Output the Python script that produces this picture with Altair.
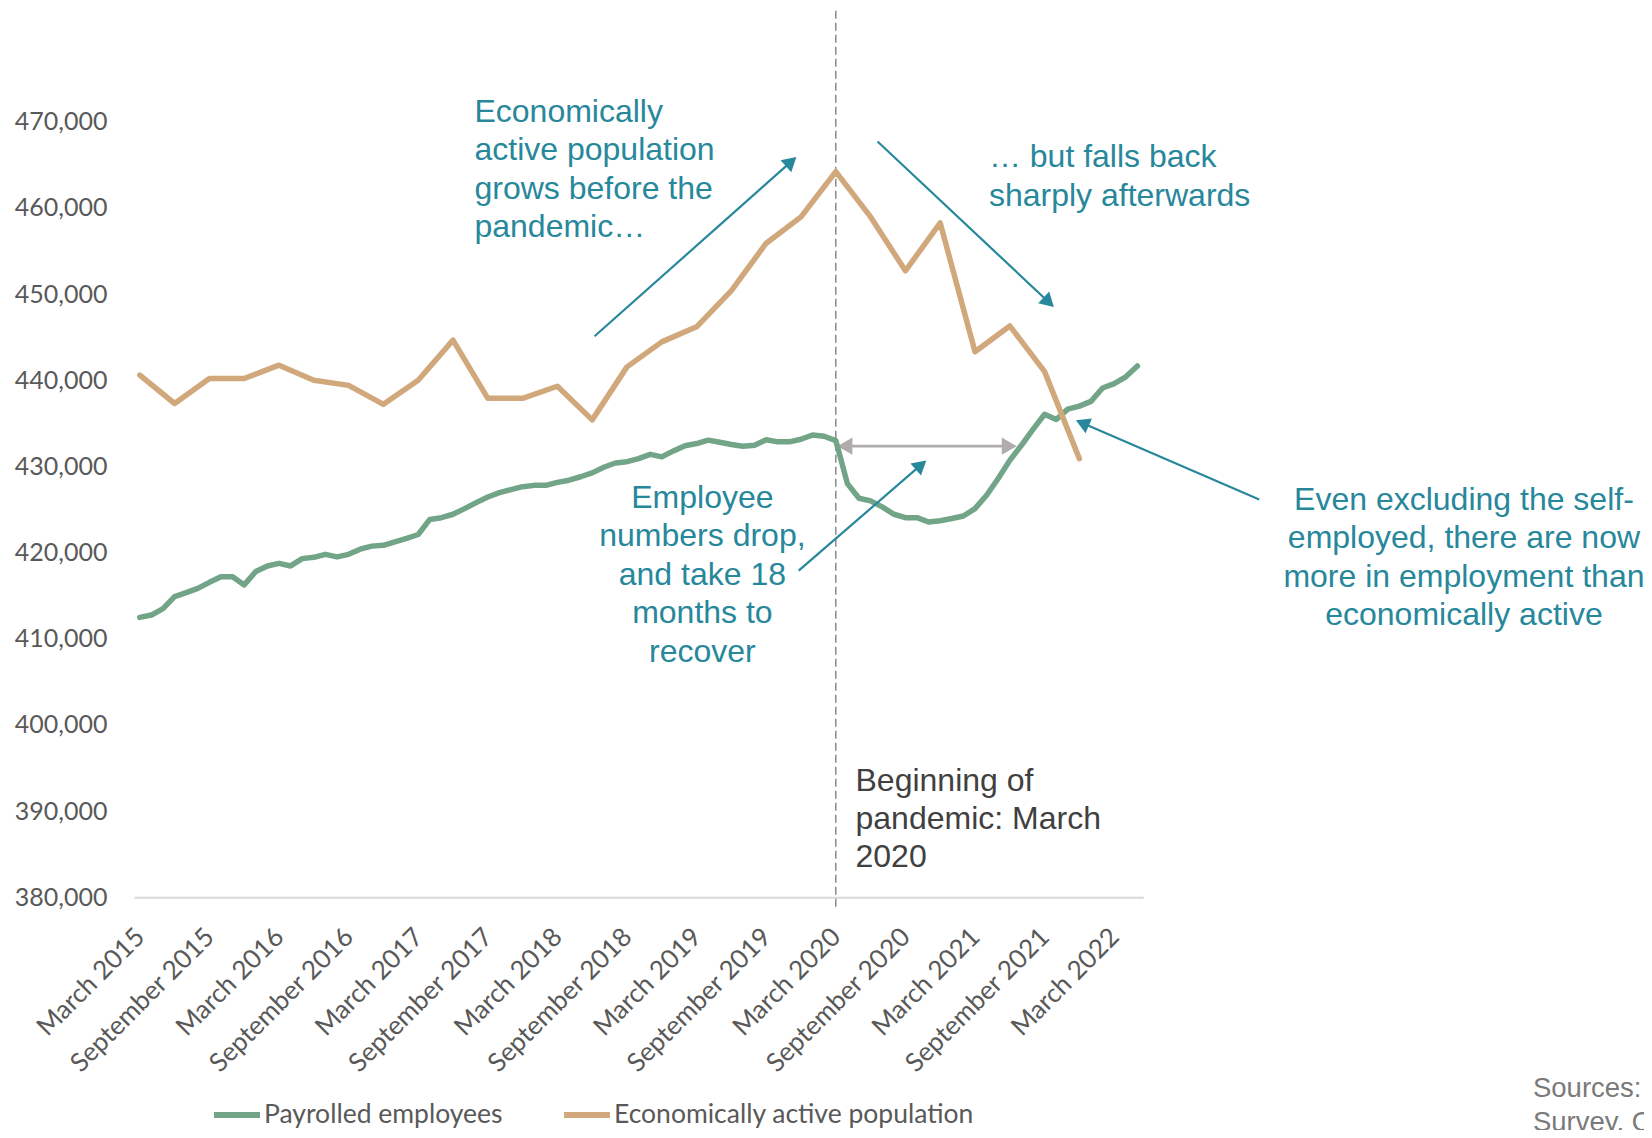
import math
import altair as alt
import pandas as pd

# ---------------- data ----------------
tick_labels = ["March 2015", "September 2015", "March 2016", "September 2016",
               "March 2017", "September 2017", "March 2018", "September 2018",
               "March 2019", "September 2019", "March 2020", "September 2020",
               "March 2021", "September 2021", "March 2022"]
tick_positions = [0, 6, 12, 18, 24, 30, 36, 42, 48, 54, 60, 66, 72, 78, 84]
y_ticks = [380000, 390000, 400000, 410000, 420000, 430000, 440000, 450000, 460000, 470000]

# monthly, March 2015 .. May 2022
payrolled = [412480, 412750, 413500, 414900, 415350, 415850, 416550, 417200, 417200, 416250,
             417800, 418450, 418750, 418450, 419300, 419450, 419800, 419500, 419800, 420400,
             420750, 420850, 421250, 421650, 422100, 423850, 424050, 424450, 425100, 425800,
             426450, 426950, 427300, 427650, 427800, 427800, 428150, 428400, 428800, 429250,
             429900, 430400, 430550, 430900, 431400, 431100, 431800, 432400, 432650, 433050,
             432800, 432550, 432350, 432450, 433100, 432850, 432850, 433150, 433650, 433500,
             433000, 428000, 426300, 426000, 425300, 424450, 424050, 424050, 423550, 423700,
             423950, 424250, 425100, 426650, 428600, 430700, 432450, 434300, 436050, 435450,
             436650, 437000, 437550, 439100, 439600, 440400, 441650]

# quarterly, March 2015 .. December 2021
econ_active = [440600, 437300, 440200, 440200, 441750, 440000, 439400, 437200, 440000, 444650,
               437900, 437900, 439300, 435400, 441550, 444450, 446200, 450400, 455900, 458950,
               464200, 458950, 452700, 458250, 443300, 446300, 441000, 430900]

series_names = ["Payrolled employees", "Economically active population"]
series_colors = ["#72a488", "#d0a87b"]

pandemic_month = [60]

notes_left = [
    {"x": 28.85, "y": 470000, "text": "Economically\nactive population\ngrows before the\npandemic…"},
    {"x": 73.2, "y": 464700, "text": "… but falls back\nsharply afterwards"},
]
notes_center = [
    {"x": 48.5, "y": 425200, "text": "Employee\nnumbers drop,\nand take 18\nmonths to\nrecover"},
    {"x": 114.15, "y": 424950, "text": "Even excluding the self-\nemployed, there are now\nmore in employment than\neconomically active"},
]
note_dark = [{"x": 61.7, "y": 392350, "text": "Beginning of\npandemic: March\n2020"}]
note_sources = [{"x": 120.1, "y": 356800, "text": "Sources:\nSurvey, ONS"}]

# arrows: start (x, y) -> tip (x2, y2) in data units
teal_arrows = [
    (39.2, 445100, 56.6, 465900),
    (63.6, 467700, 78.8, 448500),
    (56.8, 417900, 67.8, 430700),
    (96.5, 426150, 80.7, 435350),
]
gray_arrow = (60.14, 75.6, 432350)

# ---------------- geometry ----------------
W, H = 1009.2, 775.6
X_DOM = [-0.5, 86.5]
Y_DOM = [380000, 470000]
kx = W / (X_DOM[1] - X_DOM[0])
ky = H / (Y_DOM[1] - Y_DOM[0])

TEAL = "#27879b"
GRAY_ARROW = "#b0acac"
TEAL_HEAD = 260
GRAY_HEAD = 300


def head(x1, y1, x2, y2, size):
    dx = (x2 - x1) * kx
    dy = -(y2 - y1) * ky
    L = math.hypot(dx, dy)
    ux, uy = dx / L, dy / L
    h = math.sqrt(3) / 4 * math.sqrt(size)
    cx = x2 - ux * h / kx
    cy = y2 + uy * h / ky
    ang = math.degrees(math.atan2(dx, -dy)) % 360
    return cx, cy, ang


teal_lines, teal_heads = [], []
for (x1, y1, x2, y2) in teal_arrows:
    cx, cy, ang = head(x1, y1, x2, y2, TEAL_HEAD)
    teal_lines.append({"x": x1, "y": y1, "x2": cx, "y2": cy})
    teal_heads.append({"x": cx, "y": cy, "angle": ang})

gx1, gx2, gy = gray_arrow
lc, _, la = head(gx2, gy, gx1, gy, GRAY_HEAD)
rc, _, ra = head(gx1, gy, gx2, gy, GRAY_HEAD)
gray_lines = [{"x": lc, "y": gy, "x2": rc, "y2": gy}]
gray_heads = [{"x": lc, "y": gy, "angle": la}, {"x": rc, "y": gy, "angle": ra}]

# ---------------- tables ----------------
df_pay = pd.DataFrame({"x": list(range(len(payrolled))), "y": payrolled,
                       "series": series_names[0]})
df_econ = pd.DataFrame({"x": [3 * i for i in range(len(econ_active))], "y": econ_active,
                        "series": series_names[1]})

xs = alt.Scale(domain=X_DOM, nice=False, zero=False)
ys = alt.Scale(domain=Y_DOM, nice=False, zero=False)

label_expr = "[" + ",".join("'" + t + "'" for t in tick_labels) + "][round(datum.value/6)]"

x_axis = alt.Axis(values=tick_positions, labelExpr=label_expr, labelAngle=-45,
                  labelAlign="right", labelBaseline="top", labelPadding=26, labelOffset=-9,
                  ticks=False, grid=False, domainColor="#d9d9d9", domainWidth=2,
                  title=None, labelFont="Lato", labelFontSize=26, labelColor="#595959",
                  labelOverlap=False, labelBound=False, labelFlush=False, labelLimit=500)
y_axis = alt.Axis(values=y_ticks, labelExpr="format(datum.value, ',')", title=None,
                  domain=False, ticks=False, grid=False, labelPadding=27,
                  labelFont="Lato", labelFontSize=25, labelColor="#595959")

X = alt.X("x:Q", scale=xs, axis=x_axis)
Y = alt.Y("y:Q", scale=ys, axis=y_axis)

color = alt.Color("series:N",
                  scale=alt.Scale(domain=series_names, range=series_colors),
                  legend=alt.Legend(orient="none", legendX=77, legendY=967,
                                    direction="horizontal", title=None,
                                    symbolType="stroke", symbolSize=2116,
                                    symbolStrokeWidth=6, labelFontSize=26.5,
                                    labelFont="Lato", labelColor="#595959",
                                    columnPadding=49, labelOffset=1, padding=0,
                                    labelLimit=600))

line_pay = alt.Chart(df_pay).mark_line(strokeWidth=5.5, strokeCap="round", strokeJoin="round").encode(
    x=X, y=Y, color=color)
line_econ = alt.Chart(df_econ).mark_line(strokeWidth=5.5, strokeCap="round", strokeJoin="round").encode(
    x=X, y=Y, color=color)

df_rule = pd.DataFrame({"x": pandemic_month, "y": [482870], "y2": [378760]})
dashed = alt.Chart(df_rule).mark_rule(strokeDash=[8, 4], color="#8a8a8a", strokeWidth=1.5).encode(
    x=X, y=Y, y2="y2:Q")


def seg_layer(rows, col, width):
    return alt.Chart(pd.DataFrame(rows)).mark_rule(color=col, strokeWidth=width).encode(
        x=X, y=Y, x2="x2:Q", y2="y2:Q")


def head_layer(rows, col, size):
    return alt.Chart(pd.DataFrame(rows)).mark_point(
        shape="triangle-up", filled=True, size=size, color=col, opacity=1, strokeWidth=0
    ).encode(x=X, y=Y, angle=alt.Angle("angle:Q", scale=None))


def text_layer(rows, align, col, size, lh):
    return alt.Chart(pd.DataFrame(rows)).mark_text(
        align=align, baseline="alphabetic", font="Liberation Sans", fontSize=size,
        color=col, lineBreak="\n", lineHeight=lh
    ).encode(x=X, y=Y, text="text:N")


chart = alt.layer(
    dashed,
    seg_layer(gray_lines, GRAY_ARROW, 2.8),
    head_layer(gray_heads, GRAY_ARROW, GRAY_HEAD),
    line_pay,
    line_econ,
    seg_layer(teal_lines, TEAL, 2.2),
    head_layer(teal_heads, TEAL, TEAL_HEAD),
    text_layer(notes_left, "left", TEAL, 32, 38.5),
    text_layer(notes_center, "center", TEAL, 32, 38.5),
    text_layer(note_dark, "left", "#404040", 32, 38.3),
    text_layer(note_sources, "left", "#7a7a7a", 27.5, 33.4),
).properties(
    width=W, height=H,
    padding={"left": 126, "top": 113.7, "right": 500.8, "bottom": 232.7},
    autosize=alt.AutoSizeParams(type="none"),
    background="white",
).configure_view(strokeWidth=0)

chart.save("out.html", embed_options={"renderer": "svg", "actions": False})
